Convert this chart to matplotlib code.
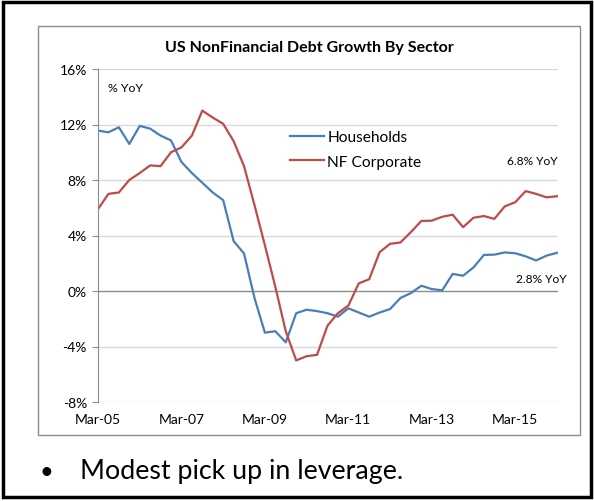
import matplotlib
matplotlib.use("Agg")
import matplotlib.pyplot as plt
from matplotlib.patches import Rectangle
from matplotlib.ticker import FixedLocator, FuncFormatter

plt.rcParams["font.family"] = ["Lato", "DejaVu Sans"]

# quarterly, Mar-05 .. Mar-16
quarters = [f"{m}-{y:02d}" for y in range(5, 17) for m in ("Mar", "Jun", "Sep", "Dec")][:45]
households = [11.56, 11.44, 11.8, 10.6, 11.9, 11.7, 11.2, 10.85, 9.3, 8.5,
              7.8, 7.1, 6.55, 3.6, 2.7, -0.5, -3.0, -2.9, -3.7, -1.6,
              -1.35, -1.45, -1.6, -1.85, -1.25, -1.55, -1.85, -1.55, -1.3, -0.5,
              -0.15, 0.38, 0.14, 0.05, 1.23, 1.1, 1.7, 2.6, 2.62, 2.78,
              2.72, 2.5, 2.2, 2.55, 2.75]
nf_corporate = [5.9, 7.0, 7.1, 8.0, 8.5, 9.05, 9.0, 10.0, 10.35, 11.2,
                13.0, 12.5, 12.05, 10.8, 9.0, 6.2, 3.3, 0.3, -2.9, -5.0,
                -4.7, -4.6, -2.5, -1.6, -1.05, 0.55, 0.85, 2.8, 3.4, 3.5,
                4.25, 5.05, 5.07, 5.35, 5.5, 4.6, 5.28, 5.4, 5.2, 6.1,
                6.4, 7.2, 7.0, 6.75, 6.83]
y_ticks = [-8, -4, 0, 4, 8, 12, 16]

W, H = 594, 502
fig = plt.figure(figsize=(W / 100, H / 100), dpi=100)

def fx(px):
    return px / W

def fy(py):
    return 1 - py / H

# outer border and chart frame
fig.patches.append(Rectangle((fx(3), fy(498)), fx(588), 495 / H, transform=fig.transFigure,
                             fill=False, edgecolor="black", linewidth=2.5))
fig.patches.append(Rectangle((fx(38), fy(436)), fx(542), 409 / H, transform=fig.transFigure,
                             fill=False, edgecolor="#8c8c8c", linewidth=1))

ax = fig.add_axes([fx(98), fy(403), fx(460), 333 / H])
x = list(range(len(quarters)))
ax.plot(x, households, color="#4a7ebb", linewidth=1.6, label="Households")
ax.plot(x, nf_corporate, color="#be4b48", linewidth=1.6, label="NF Corporate")

ax.set_xlim(0, 44.1)
ax.set_ylim(-8, 16)
ax.yaxis.set_major_locator(FixedLocator(y_ticks))
ax.yaxis.set_major_formatter(FuncFormatter(lambda v, p: f"{v:.0f}%"))
ax.set_xticks(x[::8])
ax.set_xticklabels(quarters[::8])
ax.tick_params(axis="x", length=0, pad=8, labelsize=10, colors="#000000")
ax.tick_params(axis="y", length=4, width=0.8, color="#8c8c8c", pad=4, labelsize=10)
for v in y_ticks:
    if v == 0:
        ax.axhline(v, color="#8c8c8c", linewidth=1, zorder=1)
    else:
        ax.axhline(v, color="#d9d9d9", linewidth=1, zorder=0)
for s in ("top", "right", "bottom"):
    ax.spines[s].set_visible(False)
ax.spines["left"].set_color("#8c8c8c")
ax.spines["left"].set_linewidth(0.8)

ax.legend(loc="upper left", bbox_to_anchor=(fx(290), fy(131)), bbox_transform=fig.transFigure,
          frameon=False, fontsize=11.2, handlelength=2.2, handletextpad=0.2,
          borderpad=0, borderaxespad=0, labelspacing=0.7)

fig.text(fx(309), fy(48), "US NonFinancial Debt Growth By Sector", ha="center", va="center",
         fontsize=11.5, fontweight="bold")
fig.text(fx(108), fy(88), "% YoY", ha="left", va="center", fontsize=8.8)
fig.text(fx(558), fy(162), "6.8% YoY", ha="right", va="center", fontsize=8.6)
fig.text(fx(567), fy(280), "2.8% YoY", ha="right", va="center", fontsize=8.6)

fig.text(fx(40), fy(472), "\u2022", ha="left", va="center", fontsize=17)
fig.text(fx(80), fy(471), "Modest pick up in leverage.", ha="left", va="center", fontsize=19.3)

fig.savefig("out.png", dpi=100)
